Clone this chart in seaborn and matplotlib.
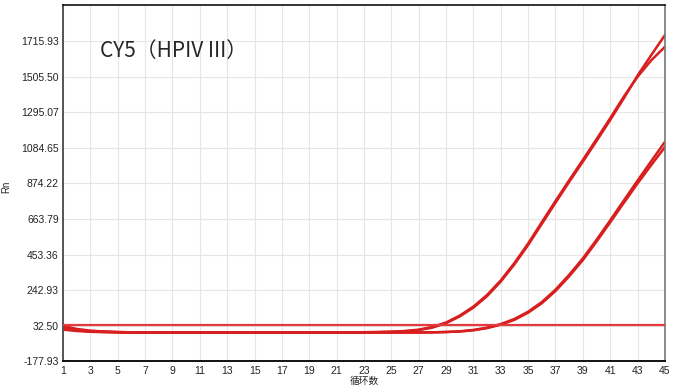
import pandas as pd
import matplotlib.pyplot as plt
import seaborn as sns

cycles = list(range(1, 46))

# Rn values per well
well_a1 = [32, 14, 4, -1, -4, -6, -7, -7, -7, -7, -7, -7, -7, -7, -7, -7, -7, -7, -7, -7,
           -6, -6, -6, -5, -3, 0, 7, 22, 48, 88, 140, 208, 294, 396, 510, 635, 760, 883, 1003, 1125,
           1249, 1378, 1512, 1633, 1751]
well_a2 = [22, 8, 1, -3, -5, -6, -7, -7, -7, -7, -7, -7, -7, -7, -7, -7, -7, -7, -7, -7,
           -6, -6, -5, -4, -2, 2, 10, 26, 52, 93, 146, 215, 301, 404, 519, 645, 770, 893, 1013, 1136,
           1260, 1388, 1505, 1602, 1682]
well_b1 = [18, 6, 0, -3, -5, -6, -7, -7, -7, -7, -7, -7, -7, -7, -7, -7, -7, -7, -7, -7,
           -7, -7, -7, -7, -7, -7, -7, -6, -4, 0, 8, 22, 43, 73, 116, 173, 246, 334, 431, 541,
           656, 774, 891, 1006, 1120]
well_b2 = [10, 2, -3, -5, -6, -7, -7, -7, -7, -7, -7, -7, -7, -7, -7, -7, -7, -7, -7, -7,
           -7, -7, -7, -7, -7, -7, -7, -6, -4, -1, 6, 19, 39, 68, 110, 166, 238, 325, 421, 530,
           644, 760, 874, 983, 1089]
threshold = 38

y_ticks = [-177.93, 32.50, 242.93, 453.36, 663.79, 874.22, 1084.65, 1295.07, 1505.50, 1715.93]
x_ticks = list(range(1, 46, 2))

df = pd.DataFrame({
    "cycle": cycles * 4,
    "Rn": well_a1 + well_a2 + well_b1 + well_b2,
    "well": ["A1"] * 45 + ["A2"] * 45 + ["B1"] * 45 + ["B2"] * 45,
})

sns.set_style("white")
plt.rcParams["font.family"] = ["Liberation Sans", "Noto Sans CJK SC", "DejaVu Sans"]

fig = plt.figure(figsize=(6.74, 3.92), dpi=100)
ax = fig.add_axes([0.0935, 0.078, 0.893, 0.908])

red = "#d81e1e"
sns.lineplot(data=df, x="cycle", y="Rn", hue="well",
             palette={w: red for w in ["A1", "A2", "B1", "B2"]},
             linewidth=1.8, legend=False, ax=ax)
ax.axhline(threshold, color="#e23a3f", linewidth=1.6, zorder=3)

ax.set_xlim(1, 45)
ax.set_ylim(-177.93, 1926.36)
ax.set_xticks(x_ticks)
ax.set_yticks(y_ticks)
ax.set_yticklabels([f"{v:.2f}" for v in y_ticks])
ax.tick_params(axis="both", length=0, labelsize=7.5, colors="#222222", pad=3)
ax.grid(True, color="#e6e6e6", linewidth=0.8)
ax.set_axisbelow(True)

ax.spines["left"].set_color("#555555")
ax.spines["left"].set_linewidth(1.4)
ax.spines["bottom"].set_color("#111111")
ax.spines["bottom"].set_linewidth(1.4)
ax.spines["top"].set_color("#111111")
ax.spines["top"].set_linewidth(1.2)
ax.spines["right"].set_color("#777777")
ax.spines["right"].set_linewidth(1.2)

ax.set_xlabel("循环数", fontsize=7, labelpad=0,
              family=["Noto Sans CJK SC", "DejaVu Sans"])
ax.set_ylabel("Rn", fontsize=7)
ax.yaxis.set_label_coords(-0.086, 0.49)

ax.text(0.061, 0.873, "CY5（HPIV III）", transform=ax.transAxes, fontsize=15,
        family=["Noto Sans CJK SC", "DejaVu Sans"], va="center", ha="left")

fig.savefig("out.png", dpi=100)
